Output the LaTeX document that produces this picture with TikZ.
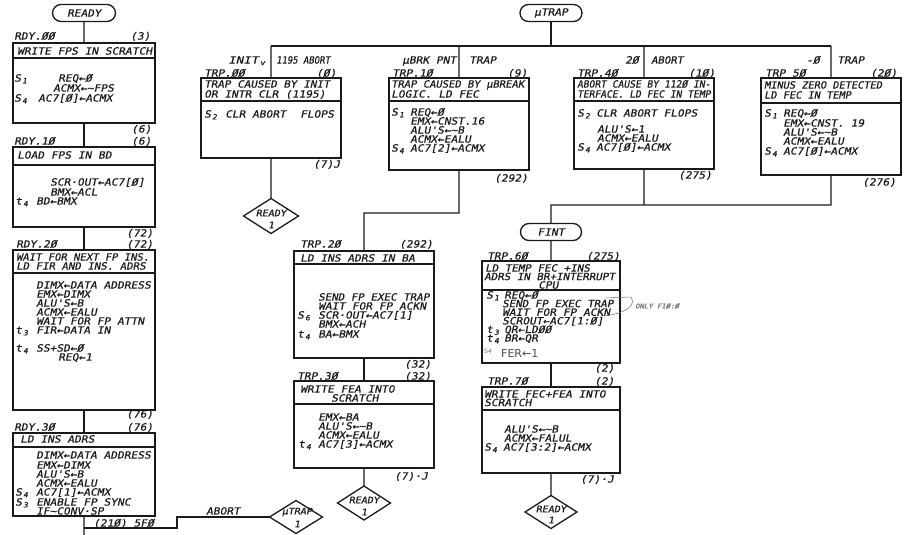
\documentclass[tikz,border=0pt]{standalone}
\usepackage{fontspec}
\usepackage{graphicx}
\usetikzlibrary{shapes.geometric}
\newfontfamily\lett{DejaVu Sans Mono}[FakeSlant=0.2,FakeStretch=1.12,FakeBold=0.6]
\newfontfamily\hand{DejaVu Sans}
\definecolor{ink}{HTML}{1A1A1A}
\definecolor{pencil}{HTML}{707070}
\newcounter{tl}
\newcommand\sbs[1]{\kern1.2bp\textsubscript{#1}}
\newcommand\Tx[4][1]{\stepcounter{tl}\node[txt] (t\thetl) at (#2,#3) {\scalebox{#1}[1]{#4}};}
\newcommand\Bx[5]{\node[boxx, minimum width=#4bp, minimum height=#5bp] (#1) at (#2,#3) {};}
\newcommand\Sep[2]{\draw[ln] ([yshift=-#2bp]#1.north west) -- ([yshift=-#2bp]#1.north east);}
\tikzset{
 ln/.style={draw=ink, line width=1.3bp},
 boxx/.style={ln, rectangle, inner sep=0pt, outer sep=0pt, anchor=north west},
 txt/.style={anchor=west, inner sep=0pt, text height=7.2bp, text depth=0bp, text=ink, font={\lett\fontsize{10bp}{11bp}\selectfont}},
 dtxt/.style={anchor=center, inner sep=0pt, text=ink, font={\lett\fontsize{9bp}{10bp}\selectfont}},
 oval/.style={ln, rounded corners=8.5bp, minimum height=17bp, inner sep=0pt, outer sep=0pt, text=ink, font={\lett\fontsize{10bp}{11bp}\selectfont}},
 dia/.style={ln, diamond, inner sep=0pt, outer sep=0pt},
}
\begin{document}
\begin{tikzpicture}[x=1bp,y=-1bp]
\path[use as bounding box, fill=white] (0,0) rectangle (904,535);

% ---------------- left column ----------------
\node[oval, minimum width=63bp] (RDY) at (84,13) {READY};
\Tx{14}{36}{RDY.ØØ}
\Tx{130}{36}{(3)}
\Bx{B1}{13}{43}{142}{80}
\Sep{B1}{15}
\Tx{17}{51}{WRITE FPS IN SCRATCH}
\Tx{14}{78}{S\sbs1}
\Tx{58}{78}{REQ←Ø}
\Tx{53}{88}{ACMX←\textasciitilde FPS}
\Tx{14}{98}{S\sbs4}
\Tx{38}{98}{AC7[Ø]←ACMX}
\Tx{131}{129}{(6)}
\Tx{14}{141}{RDY.1Ø}
\Tx{131}{141}{(6)}
\Bx{B2}{13}{147}{142}{80}
\Sep{B2}{18}
\Tx{17}{155}{LOAD FPS IN BD}
\Tx{50}{182}{SCR·OUT←AC7[Ø]}
\Tx{50}{192}{BMX←ACL}
\Tx{15}{201}{t\sbs4}
\Tx{36}{201}{BD←BMX}
\Tx{126}{233}{(72)}
\Tx{16}{244}{RDY.2Ø}
\Tx{126}{244}{(72)}
\Bx{B3}{13}{250}{142}{160}
\Sep{B3}{23}
\Tx[0.94]{16}{257}{WAIT FOR NEXT FP INS.}
\Tx[0.96]{16}{266}{LD FIR AND INS. ADRS}
\Tx{36}{285}{DIMX←DATA ADDRESS}
\Tx{36}{294}{EMX←DIMX}
\Tx{36}{303}{ALU'S←B}
\Tx{36}{312}{ACMX←EALU}
\Tx{36}{321}{WAIT FOR FP ATTN}
\Tx{15}{330}{t\sbs3}
\Tx{36}{330}{FIR←DATA IN}
\Tx{15}{348}{t\sbs4}
\Tx{36}{348}{SS+SD←Ø}
\Tx{58}{357}{REQ←1}
\Tx{126}{414}{(76)}
\Tx{14}{427}{RDY.3Ø}
\Tx{126}{427}{(76)}
\Bx{B4}{13}{433}{142}{83}
\Sep{B4}{14}
\Tx{20}{439}{LD INS ADRS}
\Tx{36}{455}{DIMX←DATA ADDRESS}
\Tx{36}{465}{EMX←DIMX}
\Tx{36}{474}{ALU'S←B}
\Tx{36}{483}{ACMX←EALU}
\Tx{15}{492}{S\sbs4}
\Tx{36}{492}{AC7[1]←ACMX}
\Tx{15}{502}{S\sbs3}
\Tx{36}{502}{ENABLE FP SYNC}
\Tx{36}{511}{IF\textasciitilde CONV·SP}
\Tx{93}{523}{(21Ø) 5FØ}
\Tx{206}{511}{ABORT}
\node[dia, minimum width=53bp, minimum height=33bp] (UTd) at (296,517) {};
\node[dtxt] (utd1) at (297,512) {μTRAP};
\node[dtxt] (utd2) at (297,524) {1};
\coordinate (bot) at (84,535);
\coordinate (ab1) at (84,528);
\coordinate (ab2) at (177,528);
\coordinate (ab3) at (177,517);
\draw[ln] (RDY.south) -- (B1.north);
\draw[ln] (B1.south) -- (B2.north);
\draw[ln] (B2.south) -- (B3.north);
\draw[ln] (B3.south) -- (B4.north);
\draw[ln] (B4.south) -- (bot);
\draw[ln] (ab1) -- (ab2) -- (ab3) -- (UTd.west);

% ---------------- top row ----------------
\node[oval, minimum width=62bp] (UT) at (551,13) {μTRAP};
\coordinate (h0) at (271,46);
\coordinate (h1) at (459,46);
\coordinate (h2) at (644,46);
\coordinate (h3) at (831,46);
\Tx[1.12]{228}{60}{INIT\sbs{v}}
\Tx[0.8]{276}{60}{1195 ABORT}
\Tx{402}{60}{μBRK PNT}
\Tx{469}{60}{TRAP}
\Tx{625}{60}{2Ø}
\Tx[0.95]{651}{60}{ABORT}
\Tx{806}{60}{-Ø}
\Tx{837}{60}{TRAP}
\Tx{204}{73}{TRP.ØØ}
\Tx{316}{73}{(Ø)}
\Tx{392}{73}{TRP.1Ø}
\Tx{507}{73}{(9)}
\Tx{577}{73}{TRP.4Ø}
\Tx{688}{73}{(1Ø)}
\Tx{765}{73}{TRP 5Ø}
\Tx{870}{73}{(2Ø)}

% TRP.00
\Bx{T00}{201}{78}{140}{80}
\Sep{T00}{23}
\Tx[0.98]{204}{84}{TRAP CAUSED BY INIT}
\Tx{204}{94}{OR INTR CLR (1195)}
\Tx{204}{114}{S\sbs2}
\Tx{225}{114}{CLR ABORT}
\Tx{300}{114}{FLOPS}
\Tx{313}{164}{(7)J}
\node[dia, minimum width=55bp, minimum height=35bp] (R00) at (271,216) {};
\node[dtxt] (r00a) at (271,213) {READY};
\node[dtxt] (r00b) at (271,225) {1};

% TRP.10
\Bx{T10}{389}{78}{140}{92}
\Sep{T10}{23}
\Tx[0.94]{391}{84}{TRAP CAUSED BY μBREAK}
\Tx{391}{94}{LOGIC. LD FEC}
\Tx{391}{112}{S\sbs1}
\Tx{410}{112}{REQ←Ø}
\Tx{410}{121}{EMX←CNST.16}
\Tx{410}{130}{ALU'S←\textasciitilde B}
\Tx{410}{139}{ACMX←EALU}
\Tx{391}{148}{S\sbs4}
\Tx{410}{148}{AC7[2]←ACMX}
\Tx{494}{178}{(292)}

% TRP.40
\Bx{T40}{574}{78}{140}{91}
\Sep{T40}{23}
\Tx[0.86]{577}{84}{ABORT CAUSE BY 112Ø IN-}
\Tx[0.86]{577}{94}{TERFACE. LD FEC IN TEMP}
\Tx{577}{113}{S\sbs2}
\Tx{596}{113}{CLR ABORT FLOPS}
\Tx{597}{129}{ALU'S←1}
\Tx{597}{138}{ACMX←EALU}
\Tx{577}{147}{S\sbs4}
\Tx{596}{147}{AC7[Ø]←ACMX}
\Tx{678}{175}{(275)}

% TRP.50
\Bx{T50}{761}{78}{140}{97}
\Sep{T50}{25}
\Tx[0.92]{764}{85}{MINUS ZERO DETECTED}
\Tx[0.92]{764}{95}{LD FEC IN TEMP}
\Tx{764}{113}{S\sbs1}
\Tx{783}{113}{REQ←Ø}
\Tx{783}{123}{EMX←CNST. 19}
\Tx{783}{132}{ALU'S←\textasciitilde B}
\Tx{783}{141}{ACMX←EALU}
\Tx{764}{151}{S\sbs4}
\Tx{783}{151}{AC7[Ø]←ACMX}
\Tx{862}{182}{(276)}

\draw[ln] (UT.south) -- (UT.south |- h0);
\draw[ln] (h0) -- (h3);
\draw[ln] (h0) -- (T00.north);
\draw[ln] (h1) -- (T10.north);
\draw[ln] (h2) -- (T40.north);
\draw[ln] (h3) -- (T50.north);
\draw[ln] (T00.south) -- (R00.north);

% ---------------- TRP.20 / TRP.30 ----------------
\Tx{300}{244}{TRP.2Ø}
\Tx{399}{244}{(292)}
\Bx{T20}{294}{251}{140}{107}
\Sep{T20}{13}
\Tx{300}{258}{LD INS ADRS IN BA}
\Tx[0.97]{318}{297}{SEND FP EXEC TRAP}
\Tx{318}{306}{WAIT FOR FP ACKN}
\Tx{297}{315}{S\sbs6}
\Tx{318}{315}{SCR·OUT←AC7[1]}
\Tx{318}{324}{BMX←ACH}
\Tx{297}{334}{t\sbs4}
\Tx{318}{334}{BA←BMX}
\Tx{404}{364}{(32)}
\Tx{297}{376}{TRP.3Ø}
\Tx{404}{376}{(32)}
\Bx{T30}{294}{381}{140}{87}
\Sep{T30}{23}
\Tx{300}{389}{WRITE FEA INTO}
\Tx{331}{398}{SCRATCH}
\Tx{318}{417}{EMX←BA}
\Tx{318}{426}{ALU'S←\textasciitilde B}
\Tx{318}{435}{ACMX←EALU}
\Tx{298}{444}{t\sbs4}
\Tx{318}{444}{AC7[3]←ACMX}
\Tx{394}{476}{(7)·J}
\node[dia, minimum width=53bp, minimum height=34bp] (R30) at (364,503) {};
\node[dtxt] (r30a) at (364,500) {READY};
\node[dtxt] (r30b) at (364,512) {1};
\coordinate (j1) at (459,213);
\coordinate (j2) at (364,213);
\draw[ln] (T10.south) -- (j1) -- (j2) -- (T20.north);
\draw[ln] (T20.south) -- (T30.north);
\draw[ln] (T30.south) -- (R30.north);

% ---------------- FINT / TRP.60 / TRP.70 ----------------
\node[oval, minimum width=61bp] (FI) at (551,232) {FINT};
\coordinate (k0) at (551,205);
\coordinate (k1) at (644,205);
\coordinate (k2) at (831,205);
\draw[ln] (T40.south) -- (k1);
\draw[ln] (T50.south) -- (k2) -- (k0) -- (FI.north);
\Tx{487}{256}{TRP.6Ø}
\Tx{586}{256}{(275)}
\Bx{T60}{482}{261}{138}{102}
\Sep{T60}{29}
\Tx[0.97]{485}{268}{LD TEMP FEC +INS}
\Tx[0.97]{484}{276.5}{ADRS IN BR+INTERRUPT}
\Tx{538}{285}{CPU}
\Tx{486}{295}{S\sbs1}
\Tx{504}{295}{REQ←Ø}
\Tx[0.97]{502}{303.6}{SEND FP EXEC TRAP}
\Tx{502}{312.2}{WAIT FOR FP ACKN}
\Tx{502}{320.8}{SCROUT←AC7[1:Ø]}
\Tx{486}{329.4}{t\sbs3}
\Tx{504}{329.4}{QR←LDØØ}
\Tx{486}{338}{t\sbs4}
\Tx{504}{338}{BR←QR}
\node[anchor=west, inner sep=0pt, text=pencil, font={\hand\fontsize{6bp}{7bp}\selectfont}] (fer0) at (484,351) {S4};
\node[anchor=west, inner sep=0pt, text=pencil!70!black, font={\hand\fontsize{11bp}{12bp}\selectfont}] (fer1) at (501,353) {FER←1};
\node[anchor=west, inner sep=0pt, text=pencil, font={\lett\fontsize{6.5bp}{8bp}\selectfont}] (only) at (635,306) {ONLY FIØ:Ø};
\draw[pencil, line width=0.5bp] (606,298) -- (631,297) .. controls (636,305) and (628,312) .. (606,316);
\Tx{594}{368}{(2)}
\Tx{487}{381}{TRP.7Ø}
\Tx{594}{381}{(2)}
\Bx{T70}{482}{387}{138}{86}
\Sep{T70}{23}
\Tx{484}{394}{WRITE FEC+FEA INTO}
\Tx{484}{402.5}{SCRATCH}
\Tx{504}{429}{ALU'S←\textasciitilde B}
\Tx{504}{438}{ACMX←FALUL}
\Tx{484}{447}{S\sbs4}
\Tx{503}{447}{AC7[3:2]←ACMX}
\Tx{580}{479}{(7)·J}
\node[dia, minimum width=52bp, minimum height=33bp] (R70) at (551,512) {};
\node[dtxt] (r70a) at (551,509) {READY};
\node[dtxt] (r70b) at (551,520) {1};
\draw[ln] (FI.south) -- (T60.north);
\draw[ln] (T60.south) -- (T70.north);
\draw[ln] (T70.south) -- (R70.north);
\end{tikzpicture}
\end{document}
